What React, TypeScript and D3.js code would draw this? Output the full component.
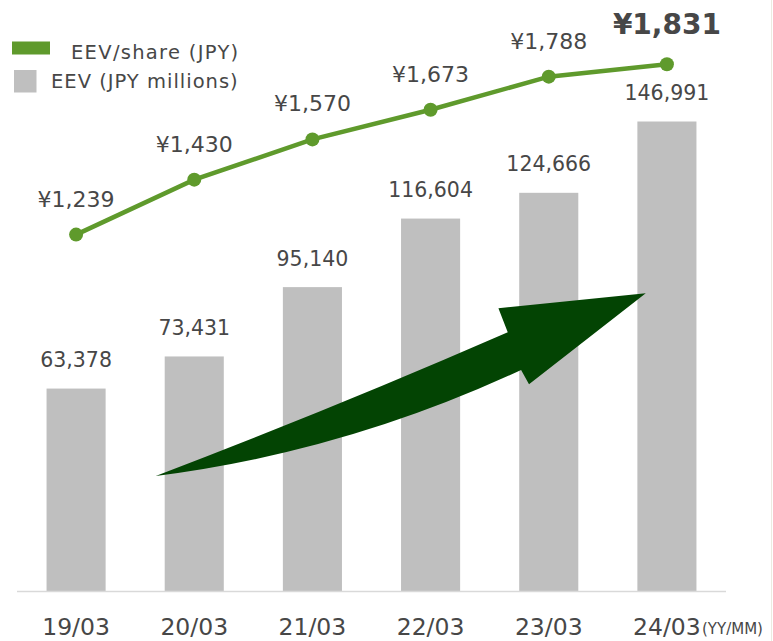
import { useEffect, useRef } from 'react'
import * as d3 from 'd3'

const periods = ['19/03', '20/03', '21/03', '22/03', '23/03', '24/03']
const eevMillions = [63378, 73431, 95140, 116604, 124666, 146991]
const eevPerShare = [1239, 1430, 1570, 1673, 1788, 1831]
const legendLabels = ['EEV/share (JPY)', 'EEV (JPY millions)']
const unitLabel = '(YY/MM)'

// arrow outline: [step offset from first category, bar value]
const arrowShape = [
  [0.674, 36000],
  [2.164, 56980],
  [3.653, 81000],
  [3.574, 88510],
  [4.821, 93200],
  [3.833, 64700],
  [3.766, 69190],
  [2.276, 43520],
]

const W = 773
const H = 641
const FONT = '"DejaVu Sans", Verdana, sans-serif'
const TEXT = '#474747'
const GREEN = '#5f9a2c'

export default function App() {
  const svgRef = useRef(null)

  useEffect(() => {
    const svg = d3.select(svgRef.current)
    svg.selectAll('*').remove()

    const baseY = 591
    const x = d3.scaleBand().domain(periods).range([17, 726]).paddingInner(0.5).paddingOuter(0.25)
    const yBar = d3.scaleLinear().domain([0, 146991]).range([baseY, 121.5])
    const yLine = d3.scaleLinear().domain([0, 1831]).range([baseY, 64.3])
    const cx = (p) => x(p) + x.bandwidth() / 2
    const c0 = cx(periods[0])

    // bars
    svg.append('g')
      .selectAll('rect')
      .data(periods)
      .join('rect')
      .attr('x', (p) => x(p))
      .attr('y', (p, i) => yBar(eevMillions[i]))
      .attr('width', x.bandwidth())
      .attr('height', (p, i) => baseY - yBar(eevMillions[i]))
      .attr('fill', '#bfbfbf')

    // baseline
    svg.append('line')
      .attr('x1', 17).attr('x2', 726)
      .attr('y1', baseY + 0.5).attr('y2', baseY + 0.5)
      .attr('stroke', '#d9d9d9').attr('stroke-width', 1.5)

    // bar labels
    svg.append('g')
      .selectAll('text')
      .data(periods)
      .join('text')
      .attr('x', (p) => cx(p))
      .attr('y', (p, i) => yBar(eevMillions[i]) - 21.5)
      .attr('text-anchor', 'middle')
      .attr('font-family', FONT)
      .attr('font-size', 20.5)
      .attr('fill', TEXT)
      .text((p, i) => d3.format(',')(eevMillions[i]))

    // arrow
    const ap = arrowShape.map(([u, v]) => [c0 + u * x.step(), yBar(v)])
    const path = d3.path()
    path.moveTo(ap[0][0], ap[0][1])
    path.quadraticCurveTo(ap[1][0], ap[1][1], ap[2][0], ap[2][1])
    path.lineTo(ap[3][0], ap[3][1])
    path.lineTo(ap[4][0], ap[4][1])
    path.lineTo(ap[5][0], ap[5][1])
    path.lineTo(ap[6][0], ap[6][1])
    path.quadraticCurveTo(ap[7][0], ap[7][1], ap[0][0], ap[0][1])
    path.closePath()
    svg.append('path').attr('d', path.toString()).attr('fill', '#034403')

    // line
    const line = d3.line()
      .x((d, i) => cx(periods[i]))
      .y((d) => yLine(d))
    svg.append('path')
      .datum(eevPerShare)
      .attr('fill', 'none')
      .attr('stroke', GREEN)
      .attr('stroke-width', 4.5)
      .attr('d', line)

    svg.append('g')
      .selectAll('circle')
      .data(eevPerShare)
      .join('circle')
      .attr('cx', (d, i) => cx(periods[i]))
      .attr('cy', (d) => yLine(d))
      .attr('r', 7)
      .attr('fill', GREEN)

    // per-share labels
    const last = eevPerShare.length - 1
    svg.append('g')
      .selectAll('text')
      .data(eevPerShare)
      .join('text')
      .attr('x', (d, i) => cx(periods[i]))
      .attr('y', (d, i) => yLine(d) - (i === last ? 30 : 28))
      .attr('text-anchor', 'middle')
      .attr('font-family', FONT)
      .attr('font-size', (d, i) => (i === last ? 28 : 22))
      .attr('font-weight', (d, i) => (i === last ? 'bold' : 'normal'))
      .attr('fill', TEXT)
      .text((d) => '¥' + d3.format(',')(d))

    // x axis labels
    svg.append('g')
      .selectAll('text')
      .data(periods)
      .join('text')
      .attr('x', (p) => cx(p))
      .attr('y', 635)
      .attr('text-anchor', 'middle')
      .attr('font-family', FONT)
      .attr('font-size', 23.5)
      .attr('fill', TEXT)
      .text((p) => p)

    svg.append('text')
      .attr('x', 702)
      .attr('y', 634)
      .attr('font-family', FONT)
      .attr('font-size', 15)
      .attr('fill', TEXT)
      .text(unitLabel)

    // legend
    svg.append('rect').attr('x', 12).attr('y', 41.5).attr('width', 38).attr('height', 13).attr('fill', GREEN)
    svg.append('text')
      .attr('x', 71).attr('y', 59)
      .attr('font-family', FONT).attr('font-size', 19.5).attr('letter-spacing', 1.3)
      .attr('fill', TEXT)
      .text(legendLabels[0])
    svg.append('rect').attr('x', 14).attr('y', 70).attr('width', 22.5).attr('height', 22.5).attr('fill', '#bfbfbf')
    svg.append('text')
      .attr('x', 51).attr('y', 88)
      .attr('font-family', FONT).attr('font-size', 19.5).attr('letter-spacing', 1)
      .attr('fill', TEXT)
      .text(legendLabels[1])

    // slide edge
    svg.append('line')
      .attr('x1', 771.5).attr('x2', 771.5).attr('y1', 0).attr('y2', H)
      .attr('stroke', '#ecebe0').attr('stroke-width', 1)
  }, [])

  return (
    <div style={{ position: 'absolute', left: 0, top: 0 }}>
      <svg ref={svgRef} width={W} height={H} style={{ display: 'block', background: '#fff' }} />
    </div>
  )
}
